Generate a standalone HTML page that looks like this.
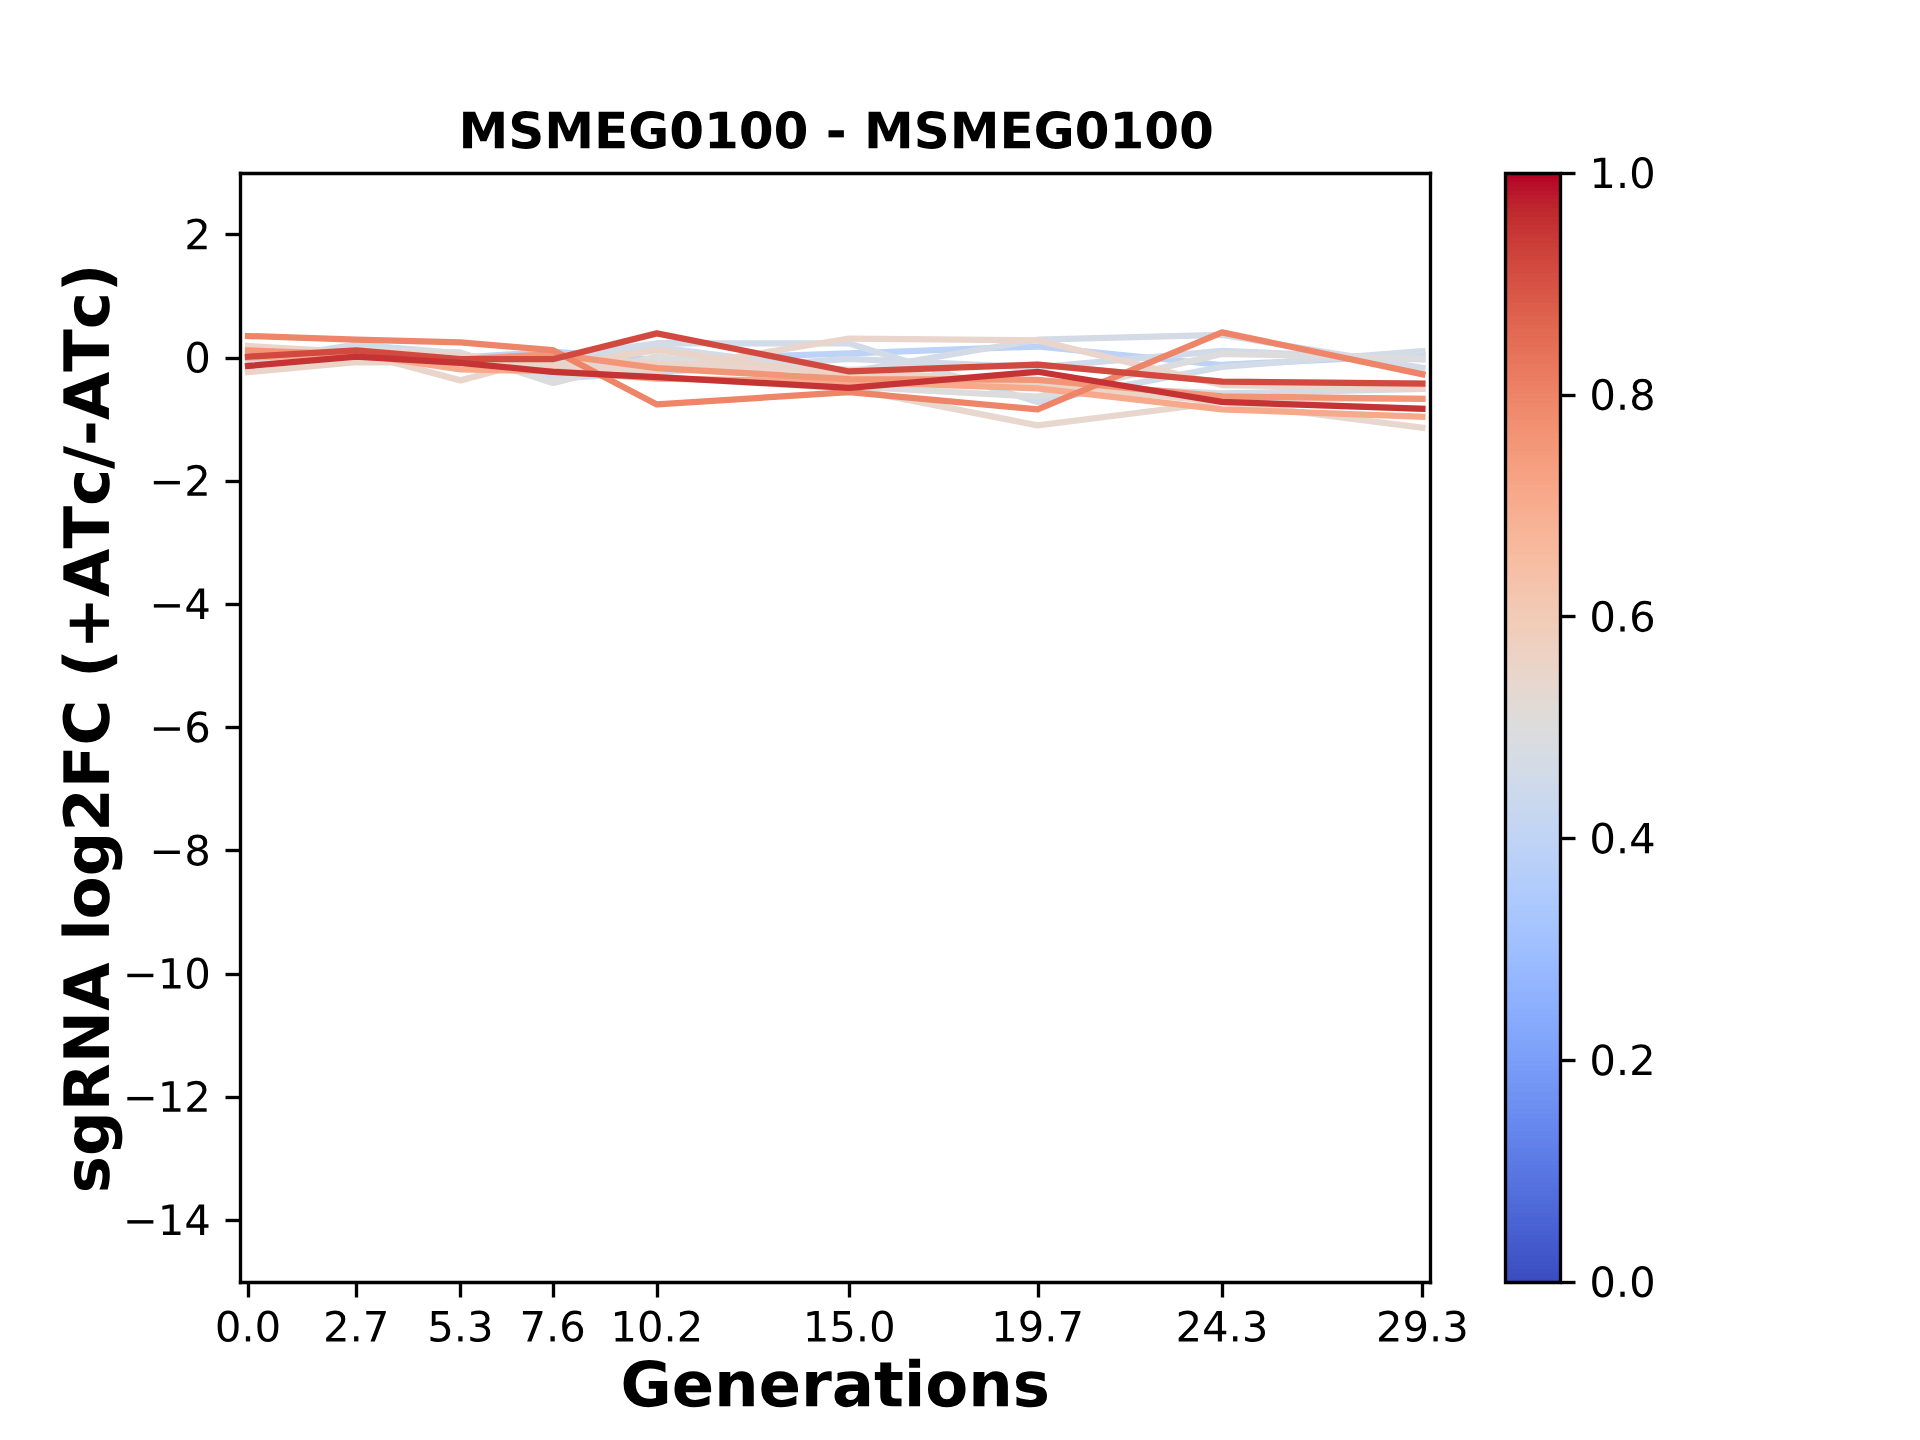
<!DOCTYPE html>
<html><head><meta charset="utf-8"><title>MSMEG0100 - MSMEG0100</title>
<style>html,body{margin:0;padding:0;background:#fff;font-family:"Liberation Sans",sans-serif}svg{display:block}</style></head>
<body>
<svg width="1920" height="1440" viewBox="0 0 460.8 345.6"><defs><style type="text/css">*{stroke-linejoin: round; stroke-linecap: butt}</style></defs><g id="figure_1"><g id="patch_1"><path d="M 0 345.6 L 460.8 345.6 L 460.8 0 L 0 0 z " style="fill: #ffffff"/></g><g id="axes_1"><g id="patch_2"><path d="M 57.6 307.584 L 343.296 307.584 L 343.296 41.472 L 57.6 41.472 z " style="fill: #ffffff"/></g><g id="matplotlib.axis_1"><g id="xtick_1"><g id="line2d_1"><defs><path id="m1504cfccaf" d="M 0 0 L 0 3.6 " style="stroke: #000000; stroke-width: 0.8"/></defs><g><use href="#m1504cfccaf" x="59.6400" y="307.8000" style="stroke: #000000; stroke-width: 0.8"/></g></g><g id="text_1"><g transform="translate(51.572316 321.942437) scale(0.1 -0.1)"><defs><path id="DejaVuSans-30" d="M 2034 4250 Q 1547 4250 1301 3770 Q 1056 3291 1056 2328 Q 1056 1369 1301 889 Q 1547 409 2034 409 Q 2525 409 2770 889 Q 3016 1369 3016 2328 Q 3016 3291 2770 3770 Q 2525 4250 2034 4250 z M 2034 4750 Q 2819 4750 3233 4129 Q 3647 3509 3647 2328 Q 3647 1150 3233 529 Q 2819 -91 2034 -91 Q 1250 -91 836 529 Q 422 1150 422 2328 Q 422 3509 836 4129 Q 1250 4750 2034 4750 z " transform="scale(0.015625)"/><path id="DejaVuSans-2e" d="M 684 794 L 1344 794 L 1344 0 L 684 0 L 684 794 z " transform="scale(0.015625)"/></defs><use href="#DejaVuSans-30"/><use href="#DejaVuSans-2e" transform="translate(63.623047 0)"/><use href="#DejaVuSans-30" transform="translate(95.410156 0)"/></g></g></g><g id="xtick_2"><g id="line2d_2"><g><use href="#m1504cfccaf" x="85.5600" y="307.8000" style="stroke: #000000; stroke-width: 0.8"/></g></g><g id="text_2"><g transform="translate(77.544680 321.942437) scale(0.1 -0.1)"><defs><path id="DejaVuSans-32" d="M 1228 531 L 3431 531 L 3431 0 L 469 0 L 469 531 Q 828 903 1448 1529 Q 2069 2156 2228 2338 Q 2531 2678 2651 2914 Q 2772 3150 2772 3378 Q 2772 3750 2511 3984 Q 2250 4219 1831 4219 Q 1534 4219 1204 4116 Q 875 4013 500 3803 L 500 4441 Q 881 4594 1212 4672 Q 1544 4750 1819 4750 Q 2544 4750 2975 4387 Q 3406 4025 3406 3419 Q 3406 3131 3298 2873 Q 3191 2616 2906 2266 Q 2828 2175 2409 1742 Q 1991 1309 1228 531 z " transform="scale(0.015625)"/><path id="DejaVuSans-37" d="M 525 4666 L 3525 4666 L 3525 4397 L 1831 0 L 1172 0 L 2766 4134 L 525 4134 L 525 4666 z " transform="scale(0.015625)"/></defs><use href="#DejaVuSans-32"/><use href="#DejaVuSans-2e" transform="translate(63.623047 0)"/><use href="#DejaVuSans-37" transform="translate(95.410156 0)"/></g></g></g><g id="xtick_3"><g id="line2d_3"><g><use href="#m1504cfccaf" x="110.5200" y="307.8000" style="stroke: #000000; stroke-width: 0.8"/></g></g><g id="text_3"><g transform="translate(102.555104 321.942437) scale(0.1 -0.1)"><defs><path id="DejaVuSans-35" d="M 691 4666 L 3169 4666 L 3169 4134 L 1269 4134 L 1269 2991 Q 1406 3038 1543 3061 Q 1681 3084 1819 3084 Q 2600 3084 3056 2656 Q 3513 2228 3513 1497 Q 3513 744 3044 326 Q 2575 -91 1722 -91 Q 1428 -91 1123 -41 Q 819 9 494 109 L 494 744 Q 775 591 1075 516 Q 1375 441 1709 441 Q 2250 441 2565 725 Q 2881 1009 2881 1497 Q 2881 1984 2565 2268 Q 2250 2553 1709 2553 Q 1456 2553 1204 2497 Q 953 2441 691 2322 L 691 4666 z " transform="scale(0.015625)"/><path id="DejaVuSans-33" d="M 2597 2516 Q 3050 2419 3304 2112 Q 3559 1806 3559 1356 Q 3559 666 3084 287 Q 2609 -91 1734 -91 Q 1441 -91 1130 -33 Q 819 25 488 141 L 488 750 Q 750 597 1062 519 Q 1375 441 1716 441 Q 2309 441 2620 675 Q 2931 909 2931 1356 Q 2931 1769 2642 2001 Q 2353 2234 1838 2234 L 1294 2234 L 1294 2753 L 1863 2753 Q 2328 2753 2575 2939 Q 2822 3125 2822 3475 Q 2822 3834 2567 4026 Q 2313 4219 1838 4219 Q 1578 4219 1281 4162 Q 984 4106 628 3988 L 628 4550 Q 988 4650 1302 4700 Q 1616 4750 1894 4750 Q 2613 4750 3031 4423 Q 3450 4097 3450 3541 Q 3450 3153 3228 2886 Q 3006 2619 2597 2516 z " transform="scale(0.015625)"/></defs><use href="#DejaVuSans-35"/><use href="#DejaVuSans-2e" transform="translate(63.623047 0)"/><use href="#DejaVuSans-33" transform="translate(95.410156 0)"/></g></g></g><g id="xtick_4"><g id="line2d_4"><g><use href="#m1504cfccaf" x="132.8400" y="307.8000" style="stroke: #000000; stroke-width: 0.8"/></g></g><g id="text_4"><g transform="translate(124.679710 321.942437) scale(0.1 -0.1)"><defs><path id="DejaVuSans-36" d="M 2113 2584 Q 1688 2584 1439 2293 Q 1191 2003 1191 1497 Q 1191 994 1439 701 Q 1688 409 2113 409 Q 2538 409 2786 701 Q 3034 994 3034 1497 Q 3034 2003 2786 2293 Q 2538 2584 2113 2584 z M 3366 4563 L 3366 3988 Q 3128 4100 2886 4159 Q 2644 4219 2406 4219 Q 1781 4219 1451 3797 Q 1122 3375 1075 2522 Q 1259 2794 1537 2939 Q 1816 3084 2150 3084 Q 2853 3084 3261 2657 Q 3669 2231 3669 1497 Q 3669 778 3244 343 Q 2819 -91 2113 -91 Q 1303 -91 875 529 Q 447 1150 447 2328 Q 447 3434 972 4092 Q 1497 4750 2381 4750 Q 2619 4750 2861 4703 Q 3103 4656 3366 4563 z " transform="scale(0.015625)"/></defs><use href="#DejaVuSans-37"/><use href="#DejaVuSans-2e" transform="translate(63.623047 0)"/><use href="#DejaVuSans-36" transform="translate(95.410156 0)"/></g></g></g><g id="xtick_5"><g id="line2d_5"><g><use href="#m1504cfccaf" x="157.8000" y="307.8000" style="stroke: #000000; stroke-width: 0.8"/></g></g><g id="text_5"><g transform="translate(146.508884 321.942437) scale(0.1 -0.1)"><defs><path id="DejaVuSans-31" d="M 794 531 L 1825 531 L 1825 4091 L 703 3866 L 703 4441 L 1819 4666 L 2450 4666 L 2450 531 L 3481 531 L 3481 0 L 794 0 L 794 531 z " transform="scale(0.015625)"/></defs><use href="#DejaVuSans-31"/><use href="#DejaVuSans-30" transform="translate(63.623047 0)"/><use href="#DejaVuSans-2e" transform="translate(127.246094 0)"/><use href="#DejaVuSans-32" transform="translate(159.033203 0)"/></g></g></g><g id="xtick_6"><g id="line2d_6"><g><use href="#m1504cfccaf" x="203.8800" y="307.8000" style="stroke: #000000; stroke-width: 0.8"/></g></g><g id="text_6"><g transform="translate(192.681975 321.942437) scale(0.1 -0.1)"><use href="#DejaVuSans-31"/><use href="#DejaVuSans-35" transform="translate(63.623047 0)"/><use href="#DejaVuSans-2e" transform="translate(127.246094 0)"/><use href="#DejaVuSans-30" transform="translate(159.033203 0)"/></g></g></g><g id="xtick_7"><g id="line2d_7"><g><use href="#m1504cfccaf" x="249.2400" y="307.8000" style="stroke: #000000; stroke-width: 0.8"/></g></g><g id="text_7"><g transform="translate(237.893127 321.942437) scale(0.1 -0.1)"><defs><path id="DejaVuSans-39" d="M 703 97 L 703 672 Q 941 559 1184 500 Q 1428 441 1663 441 Q 2288 441 2617 861 Q 2947 1281 2994 2138 Q 2813 1869 2534 1725 Q 2256 1581 1919 1581 Q 1219 1581 811 2004 Q 403 2428 403 3163 Q 403 3881 828 4315 Q 1253 4750 1959 4750 Q 2769 4750 3195 4129 Q 3622 3509 3622 2328 Q 3622 1225 3098 567 Q 2575 -91 1691 -91 Q 1453 -91 1209 -44 Q 966 3 703 97 z M 1959 2075 Q 2384 2075 2632 2365 Q 2881 2656 2881 3163 Q 2881 3666 2632 3958 Q 2384 4250 1959 4250 Q 1534 4250 1286 3958 Q 1038 3666 1038 3163 Q 1038 2656 1286 2365 Q 1534 2075 1959 2075 z " transform="scale(0.015625)"/></defs><use href="#DejaVuSans-31"/><use href="#DejaVuSans-39" transform="translate(63.623047 0)"/><use href="#DejaVuSans-2e" transform="translate(127.246094 0)"/><use href="#DejaVuSans-37" transform="translate(159.033203 0)"/></g></g></g><g id="xtick_8"><g id="line2d_8"><g><use href="#m1504cfccaf" x="293.4000" y="307.8000" style="stroke: #000000; stroke-width: 0.8"/></g></g><g id="text_8"><g transform="translate(282.142339 321.942437) scale(0.1 -0.1)"><defs><path id="DejaVuSans-34" d="M 2419 4116 L 825 1625 L 2419 1625 L 2419 4116 z M 2253 4666 L 3047 4666 L 3047 1625 L 3713 1625 L 3713 1100 L 3047 1100 L 3047 0 L 2419 0 L 2419 1100 L 313 1100 L 313 1709 L 2253 4666 z " transform="scale(0.015625)"/></defs><use href="#DejaVuSans-32"/><use href="#DejaVuSans-34" transform="translate(63.623047 0)"/><use href="#DejaVuSans-2e" transform="translate(127.246094 0)"/><use href="#DejaVuSans-33" transform="translate(159.033203 0)"/></g></g></g><g id="xtick_9"><g id="line2d_9"><g><use href="#m1504cfccaf" x="341.4000" y="307.8000" style="stroke: #000000; stroke-width: 0.8"/></g></g><g id="text_9"><g transform="translate(330.239309 321.942437) scale(0.1 -0.1)"><use href="#DejaVuSans-32"/><use href="#DejaVuSans-39" transform="translate(63.623047 0)"/><use href="#DejaVuSans-2e" transform="translate(127.246094 0)"/><use href="#DejaVuSans-33" transform="translate(159.033203 0)"/></g></g></g><g id="text_10"><g transform="translate(148.907766 337.505781) scale(0.15 -0.15)"><defs><path id="DejaVuSans-Bold-47" d="M 4781 347 Q 4331 128 3847 18 Q 3363 -91 2847 -91 Q 1681 -91 1000 561 Q 319 1213 319 2328 Q 319 3456 1012 4103 Q 1706 4750 2913 4750 Q 3378 4750 3804 4662 Q 4231 4575 4609 4403 L 4609 3438 Q 4219 3659 3833 3768 Q 3447 3878 3059 3878 Q 2341 3878 1952 3476 Q 1563 3075 1563 2328 Q 1563 1588 1938 1184 Q 2313 781 3003 781 Q 3191 781 3352 804 Q 3513 828 3641 878 L 3641 1784 L 2906 1784 L 2906 2591 L 4781 2591 L 4781 347 z " transform="scale(0.015625)"/><path id="DejaVuSans-Bold-65" d="M 4031 1759 L 4031 1441 L 1416 1441 Q 1456 1047 1700 850 Q 1944 653 2381 653 Q 2734 653 3104 758 Q 3475 863 3866 1075 L 3866 213 Q 3469 63 3072 -14 Q 2675 -91 2278 -91 Q 1328 -91 801 392 Q 275 875 275 1747 Q 275 2603 792 3093 Q 1309 3584 2216 3584 Q 3041 3584 3536 3087 Q 4031 2591 4031 1759 z M 2881 2131 Q 2881 2450 2695 2645 Q 2509 2841 2209 2841 Q 1884 2841 1681 2658 Q 1478 2475 1428 2131 L 2881 2131 z " transform="scale(0.015625)"/><path id="DejaVuSans-Bold-6e" d="M 4056 2131 L 4056 0 L 2931 0 L 2931 347 L 2931 1631 Q 2931 2084 2911 2256 Q 2891 2428 2841 2509 Q 2775 2619 2662 2680 Q 2550 2741 2406 2741 Q 2056 2741 1856 2470 Q 1656 2200 1656 1722 L 1656 0 L 538 0 L 538 3500 L 1656 3500 L 1656 2988 Q 1909 3294 2193 3439 Q 2478 3584 2822 3584 Q 3428 3584 3742 3212 Q 4056 2841 4056 2131 z " transform="scale(0.015625)"/><path id="DejaVuSans-Bold-72" d="M 3138 2547 Q 2991 2616 2845 2648 Q 2700 2681 2553 2681 Q 2122 2681 1889 2404 Q 1656 2128 1656 1613 L 1656 0 L 538 0 L 538 3500 L 1656 3500 L 1656 2925 Q 1872 3269 2151 3426 Q 2431 3584 2822 3584 Q 2878 3584 2943 3579 Q 3009 3575 3134 3559 L 3138 2547 z " transform="scale(0.015625)"/><path id="DejaVuSans-Bold-61" d="M 2106 1575 Q 1756 1575 1579 1456 Q 1403 1338 1403 1106 Q 1403 894 1545 773 Q 1688 653 1941 653 Q 2256 653 2472 879 Q 2688 1106 2688 1447 L 2688 1575 L 2106 1575 z M 3816 1997 L 3816 0 L 2688 0 L 2688 519 Q 2463 200 2181 54 Q 1900 -91 1497 -91 Q 953 -91 614 226 Q 275 544 275 1050 Q 275 1666 698 1953 Q 1122 2241 2028 2241 L 2688 2241 L 2688 2328 Q 2688 2594 2478 2717 Q 2269 2841 1825 2841 Q 1466 2841 1156 2769 Q 847 2697 581 2553 L 581 3406 Q 941 3494 1303 3539 Q 1666 3584 2028 3584 Q 2975 3584 3395 3211 Q 3816 2838 3816 1997 z " transform="scale(0.015625)"/><path id="DejaVuSans-Bold-74" d="M 1759 4494 L 1759 3500 L 2913 3500 L 2913 2700 L 1759 2700 L 1759 1216 Q 1759 972 1856 886 Q 1953 800 2241 800 L 2816 800 L 2816 0 L 1856 0 Q 1194 0 917 276 Q 641 553 641 1216 L 641 2700 L 84 2700 L 84 3500 L 641 3500 L 641 4494 L 1759 4494 z " transform="scale(0.015625)"/><path id="DejaVuSans-Bold-69" d="M 538 3500 L 1656 3500 L 1656 0 L 538 0 L 538 3500 z M 538 4863 L 1656 4863 L 1656 3950 L 538 3950 L 538 4863 z " transform="scale(0.015625)"/><path id="DejaVuSans-Bold-6f" d="M 2203 2784 Q 1831 2784 1636 2517 Q 1441 2250 1441 1747 Q 1441 1244 1636 976 Q 1831 709 2203 709 Q 2569 709 2762 976 Q 2956 1244 2956 1747 Q 2956 2250 2762 2517 Q 2569 2784 2203 2784 z M 2203 3584 Q 3106 3584 3614 3096 Q 4122 2609 4122 1747 Q 4122 884 3614 396 Q 3106 -91 2203 -91 Q 1297 -91 786 396 Q 275 884 275 1747 Q 275 2609 786 3096 Q 1297 3584 2203 3584 z " transform="scale(0.015625)"/><path id="DejaVuSans-Bold-73" d="M 3272 3391 L 3272 2541 Q 2913 2691 2578 2766 Q 2244 2841 1947 2841 Q 1628 2841 1473 2761 Q 1319 2681 1319 2516 Q 1319 2381 1436 2309 Q 1553 2238 1856 2203 L 2053 2175 Q 2913 2066 3209 1816 Q 3506 1566 3506 1031 Q 3506 472 3093 190 Q 2681 -91 1863 -91 Q 1516 -91 1145 -36 Q 775 19 384 128 L 384 978 Q 719 816 1070 734 Q 1422 653 1784 653 Q 2113 653 2278 743 Q 2444 834 2444 1013 Q 2444 1163 2330 1236 Q 2216 1309 1875 1350 L 1678 1375 Q 931 1469 631 1722 Q 331 1975 331 2491 Q 331 3047 712 3315 Q 1094 3584 1881 3584 Q 2191 3584 2531 3537 Q 2872 3491 3272 3391 z " transform="scale(0.015625)"/></defs><use href="#DejaVuSans-Bold-47"/><use href="#DejaVuSans-Bold-65" transform="translate(82.080078 0)"/><use href="#DejaVuSans-Bold-6e" transform="translate(149.902344 0)"/><use href="#DejaVuSans-Bold-65" transform="translate(221.09375 0)"/><use href="#DejaVuSans-Bold-72" transform="translate(288.916016 0)"/><use href="#DejaVuSans-Bold-61" transform="translate(338.232422 0)"/><use href="#DejaVuSans-Bold-74" transform="translate(405.712891 0)"/><use href="#DejaVuSans-Bold-69" transform="translate(453.515625 0)"/><use href="#DejaVuSans-Bold-6f" transform="translate(487.792969 0)"/><use href="#DejaVuSans-Bold-6e" transform="translate(556.494141 0)"/><use href="#DejaVuSans-Bold-73" transform="translate(627.685547 0)"/></g></g></g><g id="matplotlib.axis_2"><g id="ytick_1"><g id="line2d_10"><defs><path id="m5d545ce8f8" d="M 0 0 L -3.6 0 " style="stroke: #000000; stroke-width: 0.8"/></defs><g><use href="#m5d545ce8f8" x="57.7200" y="292.9200" style="stroke: #000000; stroke-width: 0.8"/></g></g><g id="text_11"><g transform="translate(29.495313 296.383219) scale(0.1 -0.1)"><defs><path id="DejaVuSans-2212" d="M 678 2272 L 4684 2272 L 4684 1741 L 678 1741 L 678 2272 z " transform="scale(0.015625)"/></defs><use href="#DejaVuSans-2212"/><use href="#DejaVuSans-31" transform="translate(83.789062 0)"/><use href="#DejaVuSans-34" transform="translate(147.412109 0)"/></g></g></g><g id="ytick_2"><g id="line2d_11"><g><use href="#m5d545ce8f8" x="57.7200" y="263.4000" style="stroke: #000000; stroke-width: 0.8"/></g></g><g id="text_12"><g transform="translate(29.495313 266.815219) scale(0.1 -0.1)"><use href="#DejaVuSans-2212"/><use href="#DejaVuSans-31" transform="translate(83.789062 0)"/><use href="#DejaVuSans-32" transform="translate(147.412109 0)"/></g></g></g><g id="ytick_3"><g id="line2d_12"><g><use href="#m5d545ce8f8" x="57.7200" y="233.8800" style="stroke: #000000; stroke-width: 0.8"/></g></g><g id="text_13"><g transform="translate(29.495313 237.247219) scale(0.1 -0.1)"><use href="#DejaVuSans-2212"/><use href="#DejaVuSans-31" transform="translate(83.789062 0)"/><use href="#DejaVuSans-30" transform="translate(147.412109 0)"/></g></g></g><g id="ytick_4"><g id="line2d_13"><g><use href="#m5d545ce8f8" x="57.7200" y="204.1200" style="stroke: #000000; stroke-width: 0.8"/></g></g><g id="text_14"><g transform="translate(35.857813 207.679219) scale(0.1 -0.1)"><defs><path id="DejaVuSans-38" d="M 2034 2216 Q 1584 2216 1326 1975 Q 1069 1734 1069 1313 Q 1069 891 1326 650 Q 1584 409 2034 409 Q 2484 409 2743 651 Q 3003 894 3003 1313 Q 3003 1734 2745 1975 Q 2488 2216 2034 2216 z M 1403 2484 Q 997 2584 770 2862 Q 544 3141 544 3541 Q 544 4100 942 4425 Q 1341 4750 2034 4750 Q 2731 4750 3128 4425 Q 3525 4100 3525 3541 Q 3525 3141 3298 2862 Q 3072 2584 2669 2484 Q 3125 2378 3379 2068 Q 3634 1759 3634 1313 Q 3634 634 3220 271 Q 2806 -91 2034 -91 Q 1263 -91 848 271 Q 434 634 434 1313 Q 434 1759 690 2068 Q 947 2378 1403 2484 z M 1172 3481 Q 1172 3119 1398 2916 Q 1625 2713 2034 2713 Q 2441 2713 2670 2916 Q 2900 3119 2900 3481 Q 2900 3844 2670 4047 Q 2441 4250 2034 4250 Q 1625 4250 1398 4047 Q 1172 3844 1172 3481 z " transform="scale(0.015625)"/></defs><use href="#DejaVuSans-2212"/><use href="#DejaVuSans-38" transform="translate(83.789062 0)"/></g></g></g><g id="ytick_5"><g id="line2d_14"><g><use href="#m5d545ce8f8" x="57.7200" y="174.6000" style="stroke: #000000; stroke-width: 0.8"/></g></g><g id="text_15"><g transform="translate(35.857813 178.111219) scale(0.1 -0.1)"><use href="#DejaVuSans-2212"/><use href="#DejaVuSans-36" transform="translate(83.789062 0)"/></g></g></g><g id="ytick_6"><g id="line2d_15"><g><use href="#m5d545ce8f8" x="57.7200" y="145.0800" style="stroke: #000000; stroke-width: 0.8"/></g></g><g id="text_16"><g transform="translate(35.857813 148.543219) scale(0.1 -0.1)"><use href="#DejaVuSans-2212"/><use href="#DejaVuSans-34" transform="translate(83.789062 0)"/></g></g></g><g id="ytick_7"><g id="line2d_16"><g><use href="#m5d545ce8f8" x="57.7200" y="115.5600" style="stroke: #000000; stroke-width: 0.8"/></g></g><g id="text_17"><g transform="translate(35.857813 118.975219) scale(0.1 -0.1)"><use href="#DejaVuSans-2212"/><use href="#DejaVuSans-32" transform="translate(83.789062 0)"/></g></g></g><g id="ytick_8"><g id="line2d_17"><g><use href="#m5d545ce8f8" x="57.7200" y="86.0400" style="stroke: #000000; stroke-width: 0.8"/></g></g><g id="text_18"><g transform="translate(44.237500 89.407219) scale(0.1 -0.1)"><use href="#DejaVuSans-30"/></g></g></g><g id="ytick_9"><g id="line2d_18"><g><use href="#m5d545ce8f8" x="57.7200" y="56.2800" style="stroke: #000000; stroke-width: 0.8"/></g></g><g id="text_19"><g transform="translate(44.237500 59.839219) scale(0.1 -0.1)"><use href="#DejaVuSans-32"/></g></g></g><g id="text_20"><g transform="translate(26.138594 286.390219) rotate(-90) scale(0.15 -0.15)"><defs><path id="DejaVuSans-Bold-67" d="M 2919 594 Q 2688 288 2409 144 Q 2131 0 1766 0 Q 1125 0 706 504 Q 288 1009 288 1791 Q 288 2575 706 3076 Q 1125 3578 1766 3578 Q 2131 3578 2409 3434 Q 2688 3291 2919 2981 L 2919 3500 L 4044 3500 L 4044 353 Q 4044 -491 3511 -936 Q 2978 -1381 1966 -1381 Q 1638 -1381 1331 -1331 Q 1025 -1281 716 -1178 L 716 -306 Q 1009 -475 1290 -558 Q 1572 -641 1856 -641 Q 2406 -641 2662 -400 Q 2919 -159 2919 353 L 2919 594 z M 2181 2772 Q 1834 2772 1640 2515 Q 1447 2259 1447 1791 Q 1447 1309 1634 1061 Q 1822 813 2181 813 Q 2531 813 2725 1069 Q 2919 1325 2919 1791 Q 2919 2259 2725 2515 Q 2531 2772 2181 2772 z " transform="scale(0.015625)"/><path id="DejaVuSans-Bold-52" d="M 2297 2597 Q 2675 2597 2839 2737 Q 3003 2878 3003 3200 Q 3003 3519 2839 3656 Q 2675 3794 2297 3794 L 1791 3794 L 1791 2597 L 2297 2597 z M 1791 1766 L 1791 0 L 588 0 L 588 4666 L 2425 4666 Q 3347 4666 3776 4356 Q 4206 4047 4206 3378 Q 4206 2916 3982 2619 Q 3759 2322 3309 2181 Q 3556 2125 3751 1926 Q 3947 1728 4147 1325 L 4800 0 L 3519 0 L 2950 1159 Q 2778 1509 2601 1637 Q 2425 1766 2131 1766 L 1791 1766 z " transform="scale(0.015625)"/><path id="DejaVuSans-Bold-4e" d="M 588 4666 L 1931 4666 L 3628 1466 L 3628 4666 L 4769 4666 L 4769 0 L 3425 0 L 1728 3200 L 1728 0 L 588 0 L 588 4666 z " transform="scale(0.015625)"/><path id="DejaVuSans-Bold-41" d="M 3419 850 L 1538 850 L 1241 0 L 31 0 L 1759 4666 L 3194 4666 L 4922 0 L 3713 0 L 3419 850 z M 1838 1716 L 3116 1716 L 2478 3572 L 1838 1716 z " transform="scale(0.015625)"/><path id="DejaVuSans-Bold-20" transform="scale(0.015625)"/><path id="DejaVuSans-Bold-6c" d="M 538 4863 L 1656 4863 L 1656 0 L 538 0 L 538 4863 z " transform="scale(0.015625)"/><path id="DejaVuSans-Bold-32" d="M 1844 884 L 3897 884 L 3897 0 L 506 0 L 506 884 L 2209 2388 Q 2438 2594 2547 2791 Q 2656 2988 2656 3200 Q 2656 3528 2436 3728 Q 2216 3928 1850 3928 Q 1569 3928 1234 3808 Q 900 3688 519 3450 L 519 4475 Q 925 4609 1322 4679 Q 1719 4750 2100 4750 Q 2938 4750 3402 4381 Q 3866 4013 3866 3353 Q 3866 2972 3669 2642 Q 3472 2313 2841 1759 L 1844 884 z " transform="scale(0.015625)"/><path id="DejaVuSans-Bold-46" d="M 588 4666 L 3834 4666 L 3834 3756 L 1791 3756 L 1791 2888 L 3713 2888 L 3713 1978 L 1791 1978 L 1791 0 L 588 0 L 588 4666 z " transform="scale(0.015625)"/><path id="DejaVuSans-Bold-43" d="M 4288 256 Q 3956 84 3597 -3 Q 3238 -91 2847 -91 Q 1681 -91 1000 561 Q 319 1213 319 2328 Q 319 3447 1000 4098 Q 1681 4750 2847 4750 Q 3238 4750 3597 4662 Q 3956 4575 4288 4403 L 4288 3438 Q 3953 3666 3628 3772 Q 3303 3878 2944 3878 Q 2300 3878 1931 3465 Q 1563 3053 1563 2328 Q 1563 1606 1931 1193 Q 2300 781 2944 781 Q 3303 781 3628 887 Q 3953 994 4288 1222 L 4288 256 z " transform="scale(0.015625)"/><path id="DejaVuSans-Bold-28" d="M 2413 -844 L 1484 -844 Q 1006 -72 778 623 Q 550 1319 550 2003 Q 550 2688 779 3389 Q 1009 4091 1484 4856 L 2413 4856 Q 2013 4116 1813 3408 Q 1613 2700 1613 2009 Q 1613 1319 1811 609 Q 2009 -100 2413 -844 z " transform="scale(0.015625)"/><path id="DejaVuSans-Bold-2b" d="M 3053 4013 L 3053 2375 L 4684 2375 L 4684 1638 L 3053 1638 L 3053 0 L 2309 0 L 2309 1638 L 678 1638 L 678 2375 L 2309 2375 L 2309 4013 L 3053 4013 z " transform="scale(0.015625)"/><path id="DejaVuSans-Bold-54" d="M 31 4666 L 4331 4666 L 4331 3756 L 2784 3756 L 2784 0 L 1581 0 L 1581 3756 L 31 3756 L 31 4666 z " transform="scale(0.015625)"/><path id="DejaVuSans-Bold-63" d="M 3366 3391 L 3366 2478 Q 3138 2634 2908 2709 Q 2678 2784 2431 2784 Q 1963 2784 1702 2511 Q 1441 2238 1441 1747 Q 1441 1256 1702 982 Q 1963 709 2431 709 Q 2694 709 2930 787 Q 3166 866 3366 1019 L 3366 103 Q 3103 6 2833 -42 Q 2563 -91 2291 -91 Q 1344 -91 809 395 Q 275 881 275 1747 Q 275 2613 809 3098 Q 1344 3584 2291 3584 Q 2566 3584 2833 3536 Q 3100 3488 3366 3391 z " transform="scale(0.015625)"/><path id="DejaVuSans-Bold-2f" d="M 1644 4666 L 2338 4666 L 691 -594 L 0 -594 L 1644 4666 z " transform="scale(0.015625)"/><path id="DejaVuSans-Bold-2d" d="M 347 2297 L 2309 2297 L 2309 1388 L 347 1388 L 347 2297 z " transform="scale(0.015625)"/><path id="DejaVuSans-Bold-29" d="M 513 -844 Q 913 -100 1113 609 Q 1313 1319 1313 2009 Q 1313 2700 1113 3408 Q 913 4116 513 4856 L 1441 4856 Q 1916 4091 2145 3389 Q 2375 2688 2375 2003 Q 2375 1319 2147 623 Q 1919 -72 1441 -844 L 513 -844 z " transform="scale(0.015625)"/></defs><use href="#DejaVuSans-Bold-73"/><use href="#DejaVuSans-Bold-67" transform="translate(59.521484 0)"/><use href="#DejaVuSans-Bold-52" transform="translate(131.103516 0)"/><use href="#DejaVuSans-Bold-4e" transform="translate(208.105469 0)"/><use href="#DejaVuSans-Bold-41" transform="translate(291.796875 0)"/><use href="#DejaVuSans-Bold-20" transform="translate(369.189453 0)"/><use href="#DejaVuSans-Bold-6c" transform="translate(404.003906 0)"/><use href="#DejaVuSans-Bold-6f" transform="translate(438.28125 0)"/><use href="#DejaVuSans-Bold-67" transform="translate(506.982422 0)"/><use href="#DejaVuSans-Bold-32" transform="translate(578.564453 0)"/><use href="#DejaVuSans-Bold-46" transform="translate(648.144531 0)"/><use href="#DejaVuSans-Bold-43" transform="translate(716.455078 0)"/><use href="#DejaVuSans-Bold-20" transform="translate(789.84375 0)"/><use href="#DejaVuSans-Bold-28" transform="translate(824.658203 0)"/><use href="#DejaVuSans-Bold-2b" transform="translate(870.361328 0)"/><use href="#DejaVuSans-Bold-41" transform="translate(954.150391 0)"/><use href="#DejaVuSans-Bold-54" transform="translate(1031.542969 0)"/><use href="#DejaVuSans-Bold-63" transform="translate(1099.755859 0)"/><use href="#DejaVuSans-Bold-2f" transform="translate(1159.033203 0)"/><use href="#DejaVuSans-Bold-2d" transform="translate(1195.556641 0)"/><use href="#DejaVuSans-Bold-41" transform="translate(1237.060547 0)"/><use href="#DejaVuSans-Bold-54" transform="translate(1314.453125 0)"/><use href="#DejaVuSans-Bold-63" transform="translate(1382.666016 0)"/><use href="#DejaVuSans-Bold-29" transform="translate(1441.943359 0)"/></g></g></g><g id="line2d_19"><path d="M 59.523879 85.60224 L 85.496242 85.52832 L 110.506667 85.824 L 132.631273 84.389952 L 157.641697 86.371008 L 203.814788 84.78912 L 249.025939 83.16288 L 293.275152 87.59808 L 341.372121 85.15872 " clip-path="url(#p9944d8ce5a)" style="fill: none; stroke: #bcd2f7; stroke-width: 1.5; stroke-linecap: square"/></g><g id="line2d_20"><path d="M 59.523879 86.71104 L 85.496242 82.71936 L 110.506667 84.78912 L 132.631273 90.85056 L 157.641697 89.37216 L 203.814788 86.11968 L 249.025939 88.18944 L 293.275152 84.19776 L 341.372121 86.26752 " clip-path="url(#p9944d8ce5a)" style="fill: none; stroke: #d1dae9; stroke-width: 1.5; stroke-linecap: square"/></g><g id="line2d_21"><path d="M 59.523879 85.824 L 85.496242 84.3456 L 110.506667 85.824 L 132.631273 85.97184 L 157.641697 82.379328 L 203.814788 82.42368 L 249.025939 96.46848 L 293.275152 88.0416 L 341.372121 84.27168 " clip-path="url(#p9944d8ce5a)" style="fill: none; stroke: #d2dbe8; stroke-width: 1.5; stroke-linecap: square"/></g><g id="line2d_22"><path d="M 59.523879 85.824 L 85.496242 85.824 L 110.506667 86.5632 L 132.631273 85.52832 L 157.641697 83.31072 L 203.814788 89.22432 L 249.025939 81.53664 L 293.275152 80.398272 L 341.372121 88.278144 " clip-path="url(#p9944d8ce5a)" style="fill: none; stroke: #d4dbe6; stroke-width: 1.5; stroke-linecap: square"/></g><g id="line2d_23"><path d="M 59.523879 85.824 L 85.496242 85.0848 L 110.506667 86.26752 L 132.631273 86.5632 L 157.641697 87.45024 L 203.814788 89.1504 L 249.025939 92.4768 L 293.275152 94.39872 L 341.372121 93.36384 " clip-path="url(#p9944d8ce5a)" style="fill: none; stroke: #d5dbe5; stroke-width: 1.5; stroke-linecap: square"/></g><g id="line2d_24"><path d="M 59.523879 85.824 L 85.496242 83.90208 L 110.506667 84.64128 L 132.631273 91.88544 L 157.641697 85.824 L 203.814788 88.7808 L 249.025939 87.52416 L 293.275152 91.58976 L 341.372121 92.03328 " clip-path="url(#p9944d8ce5a)" style="fill: none; stroke: #d6dce4; stroke-width: 1.5; stroke-linecap: square"/></g><g id="line2d_25"><path d="M 59.523879 85.824 L 85.496242 83.90208 L 110.506667 84.64128 L 132.631273 91.88544 L 157.641697 85.498752 L 203.814788 92.742912 L 249.025939 95.197056 L 293.275152 84.93696 L 341.372121 85.97184 " clip-path="url(#p9944d8ce5a)" style="fill: none; stroke: #dddcdc; stroke-width: 1.5; stroke-linecap: square"/></g><g id="line2d_26"><path d="M 59.523879 87.834624 L 85.496242 85.60224 L 110.506667 87.08064 L 132.631273 89.22432 L 157.641697 90.510528 L 203.814788 93.216 L 249.025939 102.0864 L 293.275152 96.5424 L 341.372121 102.67776 " clip-path="url(#p9944d8ce5a)" style="fill: none; stroke: #e7d7ce; stroke-width: 1.5; stroke-linecap: square"/></g><g id="line2d_27"><path d="M 59.523879 87.834624 L 85.496242 84.3456 L 110.506667 85.23264 L 132.631273 87.89376 L 157.641697 88.85472 L 203.814788 81.24096 L 249.025939 81.68448 L 293.275152 92.40288 L 341.372121 93.216 " clip-path="url(#p9944d8ce5a)" style="fill: none; stroke: #e9d5cb; stroke-width: 1.5; stroke-linecap: square"/></g><g id="line2d_28"><path d="M 59.523879 83.01504 L 85.496242 84.582144 L 110.506667 91.29408 L 132.631273 85.38048 L 157.641697 87.184128 L 203.814788 89.07648 L 249.025939 91.7376 L 293.275152 95.58144 L 341.372121 95.72928 " clip-path="url(#p9944d8ce5a)" style="fill: none; stroke: #e9d5cb; stroke-width: 1.5; stroke-linecap: square"/></g><g id="line2d_29"><path d="M 59.523879 89.29824 L 85.496242 86.9328 L 110.506667 87.08064 L 132.631273 87.864192 L 157.641697 84.04992 L 203.814788 90.2592 L 249.025939 92.18112 L 293.275152 96.46848 L 341.372121 98.09472 " clip-path="url(#p9944d8ce5a)" style="fill: none; stroke: #ead4c8; stroke-width: 1.5; stroke-linecap: square"/></g><g id="line2d_30"><path d="M 59.523879 85.824 L 85.496242 84.93696 L 110.506667 88.63296 L 132.631273 89.07648 L 157.641697 90.85056 L 203.814788 91.66368 L 249.025939 93.216 L 293.275152 98.24256 L 341.372121 100.01664 " clip-path="url(#p9944d8ce5a)" style="fill: none; stroke: #f7a98b; stroke-width: 1.5; stroke-linecap: square"/></g><g id="line2d_31"><path d="M 59.523879 84.094272 L 85.496242 85.0848 L 110.506667 86.26752 L 132.631273 84.981312 L 157.641697 88.33728 L 203.814788 90.9984 L 249.025939 91.14624 L 293.275152 95.13792 L 341.372121 95.72928 " clip-path="url(#p9944d8ce5a)" style="fill: none; stroke: #f39577; stroke-width: 1.5; stroke-linecap: square"/></g><g id="line2d_32"><path d="M 59.523879 80.6496 L 85.496242 81.53664 L 110.506667 82.172352 L 132.631273 84.020352 L 157.641697 97.05984 L 203.814788 94.10304 L 249.025939 98.24256 L 293.275152 79.76256 L 341.372121 89.81568 " clip-path="url(#p9944d8ce5a)" style="fill: none; stroke: #ee8468; stroke-width: 1.5; stroke-linecap: square"/></g><g id="line2d_33"><path d="M 59.523879 85.60224 L 85.496242 84.094272 L 110.506667 86.208384 L 132.631273 86.208384 L 157.641697 80.013888 L 203.814788 89.1504 L 249.025939 87.52416 L 293.275152 91.58976 L 341.372121 92.03328 " clip-path="url(#p9944d8ce5a)" style="fill: none; stroke: #d1493f; stroke-width: 1.5; stroke-linecap: square"/></g><g id="line2d_34"><path d="M 59.523879 87.834624 L 85.496242 85.60224 L 110.506667 87.08064 L 132.631273 89.22432 L 157.641697 90.510528 L 203.814788 93.06816 L 249.025939 89.22432 L 293.275152 96.46848 L 341.372121 98.09472 " clip-path="url(#p9944d8ce5a)" style="fill: none; stroke: #c53334; stroke-width: 1.5; stroke-linecap: square"/></g><g id="patch_3"><path d="M 57.72 307.8 L 57.72 41.64 " style="fill: none; stroke: #000000; stroke-width: 0.8; stroke-linejoin: miter; stroke-linecap: square"/></g><g id="patch_4"><path d="M 343.32 307.8 L 343.32 41.64 " style="fill: none; stroke: #000000; stroke-width: 0.8; stroke-linejoin: miter; stroke-linecap: square"/></g><g id="patch_5"><path d="M 57.72 307.8 L 343.32 307.8 " style="fill: none; stroke: #000000; stroke-width: 0.8; stroke-linejoin: miter; stroke-linecap: square"/></g><g id="patch_6"><path d="M 57.72 41.64 L 343.32 41.64 " style="fill: none; stroke: #000000; stroke-width: 0.8; stroke-linejoin: miter; stroke-linecap: square"/></g><g id="text_21"><g transform="translate(110.050500 35.568000) scale(0.12 -0.12)"><defs><path id="DejaVuSans-Bold-4d" d="M 588 4666 L 2119 4666 L 3181 2169 L 4250 4666 L 5778 4666 L 5778 0 L 4641 0 L 4641 3413 L 3566 897 L 2803 897 L 1728 3413 L 1728 0 L 588 0 L 588 4666 z " transform="scale(0.015625)"/><path id="DejaVuSans-Bold-53" d="M 3834 4519 L 3834 3531 Q 3450 3703 3084 3790 Q 2719 3878 2394 3878 Q 1963 3878 1756 3759 Q 1550 3641 1550 3391 Q 1550 3203 1689 3098 Q 1828 2994 2194 2919 L 2706 2816 Q 3484 2659 3812 2340 Q 4141 2022 4141 1434 Q 4141 663 3683 286 Q 3225 -91 2284 -91 Q 1841 -91 1394 -6 Q 947 78 500 244 L 500 1259 Q 947 1022 1364 901 Q 1781 781 2169 781 Q 2563 781 2772 912 Q 2981 1044 2981 1288 Q 2981 1506 2839 1625 Q 2697 1744 2272 1838 L 1806 1941 Q 1106 2091 782 2419 Q 459 2747 459 3303 Q 459 4000 909 4375 Q 1359 4750 2203 4750 Q 2588 4750 2994 4692 Q 3400 4634 3834 4519 z " transform="scale(0.015625)"/><path id="DejaVuSans-Bold-45" d="M 588 4666 L 3834 4666 L 3834 3756 L 1791 3756 L 1791 2888 L 3713 2888 L 3713 1978 L 1791 1978 L 1791 909 L 3903 909 L 3903 0 L 588 0 L 588 4666 z " transform="scale(0.015625)"/><path id="DejaVuSans-Bold-30" d="M 2944 2338 Q 2944 3213 2780 3570 Q 2616 3928 2228 3928 Q 1841 3928 1675 3570 Q 1509 3213 1509 2338 Q 1509 1453 1675 1090 Q 1841 728 2228 728 Q 2613 728 2778 1090 Q 2944 1453 2944 2338 z M 4147 2328 Q 4147 1169 3647 539 Q 3147 -91 2228 -91 Q 1306 -91 806 539 Q 306 1169 306 2328 Q 306 3491 806 4120 Q 1306 4750 2228 4750 Q 3147 4750 3647 4120 Q 4147 3491 4147 2328 z " transform="scale(0.015625)"/><path id="DejaVuSans-Bold-31" d="M 750 831 L 1813 831 L 1813 3847 L 722 3622 L 722 4441 L 1806 4666 L 2950 4666 L 2950 831 L 4013 831 L 4013 0 L 750 0 L 750 831 z " transform="scale(0.015625)"/></defs><use href="#DejaVuSans-Bold-4d"/><use href="#DejaVuSans-Bold-53" transform="translate(99.511719 0)"/><use href="#DejaVuSans-Bold-4d" transform="translate(171.533203 0)"/><use href="#DejaVuSans-Bold-45" transform="translate(271.044922 0)"/><use href="#DejaVuSans-Bold-47" transform="translate(339.355469 0)"/><use href="#DejaVuSans-Bold-30" transform="translate(421.435547 0)"/><use href="#DejaVuSans-Bold-31" transform="translate(491.015625 0)"/><use href="#DejaVuSans-Bold-30" transform="translate(560.595703 0)"/><use href="#DejaVuSans-Bold-30" transform="translate(630.175781 0)"/><use href="#DejaVuSans-Bold-20" transform="translate(699.755859 0)"/><use href="#DejaVuSans-Bold-2d" transform="translate(734.570312 0)"/><use href="#DejaVuSans-Bold-20" transform="translate(776.074219 0)"/><use href="#DejaVuSans-Bold-4d" transform="translate(810.888672 0)"/><use href="#DejaVuSans-Bold-53" transform="translate(910.400391 0)"/><use href="#DejaVuSans-Bold-4d" transform="translate(982.421875 0)"/><use href="#DejaVuSans-Bold-45" transform="translate(1081.933594 0)"/><use href="#DejaVuSans-Bold-47" transform="translate(1150.244141 0)"/><use href="#DejaVuSans-Bold-30" transform="translate(1232.324219 0)"/><use href="#DejaVuSans-Bold-31" transform="translate(1301.904297 0)"/><use href="#DejaVuSans-Bold-30" transform="translate(1371.484375 0)"/><use href="#DejaVuSans-Bold-30" transform="translate(1441.064453 0)"/></g></g></g><g id="axes_2"><g id="patch_7"><path d="M 361.152 307.584 L 374.4576 307.584 L 374.4576 41.472 L 361.152 41.472 z " style="fill: #ffffff"/></g><g id="cbar_solids" shape-rendering="crispEdges"><rect x="361.1520" y="306.5445" width="13.3056" height="1.0395" fill="#3b4cc0"/><rect x="361.1520" y="305.5050" width="13.3056" height="1.1895" fill="#3c4ec2"/><rect x="361.1520" y="304.4655" width="13.3056" height="1.1895" fill="#3d50c3"/><rect x="361.1520" y="303.4260" width="13.3056" height="1.1895" fill="#3e51c5"/><rect x="361.1520" y="302.3865" width="13.3056" height="1.1895" fill="#3f53c6"/><rect x="361.1520" y="301.3470" width="13.3056" height="1.1895" fill="#4055c8"/><rect x="361.1520" y="300.3075" width="13.3056" height="1.1895" fill="#4257c9"/><rect x="361.1520" y="299.2680" width="13.3056" height="1.1895" fill="#4358cb"/><rect x="361.1520" y="298.2285" width="13.3056" height="1.1895" fill="#445acc"/><rect x="361.1520" y="297.1890" width="13.3056" height="1.1895" fill="#455cce"/><rect x="361.1520" y="296.1495" width="13.3056" height="1.1895" fill="#465ecf"/><rect x="361.1520" y="295.1100" width="13.3056" height="1.1895" fill="#485fd1"/><rect x="361.1520" y="294.0705" width="13.3056" height="1.1895" fill="#4961d2"/><rect x="361.1520" y="293.0310" width="13.3056" height="1.1895" fill="#4a63d3"/><rect x="361.1520" y="291.9915" width="13.3056" height="1.1895" fill="#4b64d5"/><rect x="361.1520" y="290.9520" width="13.3056" height="1.1895" fill="#4c66d6"/><rect x="361.1520" y="289.9125" width="13.3056" height="1.1895" fill="#4e68d8"/><rect x="361.1520" y="288.8730" width="13.3056" height="1.1895" fill="#4f69d9"/><rect x="361.1520" y="287.8335" width="13.3056" height="1.1895" fill="#506bda"/><rect x="361.1520" y="286.7940" width="13.3056" height="1.1895" fill="#516ddb"/><rect x="361.1520" y="285.7545" width="13.3056" height="1.1895" fill="#536edd"/><rect x="361.1520" y="284.7150" width="13.3056" height="1.1895" fill="#5470de"/><rect x="361.1520" y="283.6755" width="13.3056" height="1.1895" fill="#5572df"/><rect x="361.1520" y="282.6360" width="13.3056" height="1.1895" fill="#5673e0"/><rect x="361.1520" y="281.5965" width="13.3056" height="1.1895" fill="#5875e1"/><rect x="361.1520" y="280.5570" width="13.3056" height="1.1895" fill="#5977e3"/><rect x="361.1520" y="279.5175" width="13.3056" height="1.1895" fill="#5a78e4"/><rect x="361.1520" y="278.4780" width="13.3056" height="1.1895" fill="#5b7ae5"/><rect x="361.1520" y="277.4385" width="13.3056" height="1.1895" fill="#5d7ce6"/><rect x="361.1520" y="276.3990" width="13.3056" height="1.1895" fill="#5e7de7"/><rect x="361.1520" y="275.3595" width="13.3056" height="1.1895" fill="#5f7fe8"/><rect x="361.1520" y="274.3200" width="13.3056" height="1.1895" fill="#6180e9"/><rect x="361.1520" y="273.2805" width="13.3056" height="1.1895" fill="#6282ea"/><rect x="361.1520" y="272.2410" width="13.3056" height="1.1895" fill="#6384eb"/><rect x="361.1520" y="271.2015" width="13.3056" height="1.1895" fill="#6485ec"/><rect x="361.1520" y="270.1620" width="13.3056" height="1.1895" fill="#6687ed"/><rect x="361.1520" y="269.1225" width="13.3056" height="1.1895" fill="#6788ee"/><rect x="361.1520" y="268.0830" width="13.3056" height="1.1895" fill="#688aef"/><rect x="361.1520" y="267.0435" width="13.3056" height="1.1895" fill="#6a8bef"/><rect x="361.1520" y="266.0040" width="13.3056" height="1.1895" fill="#6b8df0"/><rect x="361.1520" y="264.9645" width="13.3056" height="1.1895" fill="#6c8ff1"/><rect x="361.1520" y="263.9250" width="13.3056" height="1.1895" fill="#6e90f2"/><rect x="361.1520" y="262.8855" width="13.3056" height="1.1895" fill="#6f92f3"/><rect x="361.1520" y="261.8460" width="13.3056" height="1.1895" fill="#7093f3"/><rect x="361.1520" y="260.8065" width="13.3056" height="1.1895" fill="#7295f4"/><rect x="361.1520" y="259.7670" width="13.3056" height="1.1895" fill="#7396f5"/><rect x="361.1520" y="258.7275" width="13.3056" height="1.1895" fill="#7597f6"/><rect x="361.1520" y="257.6880" width="13.3056" height="1.1895" fill="#7699f6"/><rect x="361.1520" y="256.6485" width="13.3056" height="1.1895" fill="#779af7"/><rect x="361.1520" y="255.6090" width="13.3056" height="1.1895" fill="#799cf8"/><rect x="361.1520" y="254.5695" width="13.3056" height="1.1895" fill="#7a9df8"/><rect x="361.1520" y="253.5300" width="13.3056" height="1.1895" fill="#7b9ff9"/><rect x="361.1520" y="252.4905" width="13.3056" height="1.1895" fill="#7da0f9"/><rect x="361.1520" y="251.4510" width="13.3056" height="1.1895" fill="#7ea1fa"/><rect x="361.1520" y="250.4115" width="13.3056" height="1.1895" fill="#80a3fa"/><rect x="361.1520" y="249.3720" width="13.3056" height="1.1895" fill="#81a4fb"/><rect x="361.1520" y="248.3325" width="13.3056" height="1.1895" fill="#82a6fb"/><rect x="361.1520" y="247.2930" width="13.3056" height="1.1895" fill="#84a7fc"/><rect x="361.1520" y="246.2535" width="13.3056" height="1.1895" fill="#85a8fc"/><rect x="361.1520" y="245.2140" width="13.3056" height="1.1895" fill="#86a9fc"/><rect x="361.1520" y="244.1745" width="13.3056" height="1.1895" fill="#88abfd"/><rect x="361.1520" y="243.1350" width="13.3056" height="1.1895" fill="#89acfd"/><rect x="361.1520" y="242.0955" width="13.3056" height="1.1895" fill="#8badfd"/><rect x="361.1520" y="241.0560" width="13.3056" height="1.1895" fill="#8caffe"/><rect x="361.1520" y="240.0165" width="13.3056" height="1.1895" fill="#8db0fe"/><rect x="361.1520" y="238.9770" width="13.3056" height="1.1895" fill="#8fb1fe"/><rect x="361.1520" y="237.9375" width="13.3056" height="1.1895" fill="#90b2fe"/><rect x="361.1520" y="236.8980" width="13.3056" height="1.1895" fill="#92b4fe"/><rect x="361.1520" y="235.8585" width="13.3056" height="1.1895" fill="#93b5fe"/><rect x="361.1520" y="234.8190" width="13.3056" height="1.1895" fill="#94b6ff"/><rect x="361.1520" y="233.7795" width="13.3056" height="1.1895" fill="#96b7ff"/><rect x="361.1520" y="232.7400" width="13.3056" height="1.1895" fill="#97b8ff"/><rect x="361.1520" y="231.7005" width="13.3056" height="1.1895" fill="#98b9ff"/><rect x="361.1520" y="230.6610" width="13.3056" height="1.1895" fill="#9abbff"/><rect x="361.1520" y="229.6215" width="13.3056" height="1.1895" fill="#9bbcff"/><rect x="361.1520" y="228.5820" width="13.3056" height="1.1895" fill="#9dbdff"/><rect x="361.1520" y="227.5425" width="13.3056" height="1.1895" fill="#9ebeff"/><rect x="361.1520" y="226.5030" width="13.3056" height="1.1895" fill="#9fbfff"/><rect x="361.1520" y="225.4635" width="13.3056" height="1.1895" fill="#a1c0ff"/><rect x="361.1520" y="224.4240" width="13.3056" height="1.1895" fill="#a2c1ff"/><rect x="361.1520" y="223.3845" width="13.3056" height="1.1895" fill="#a3c2fe"/><rect x="361.1520" y="222.3450" width="13.3056" height="1.1895" fill="#a5c3fe"/><rect x="361.1520" y="221.3055" width="13.3056" height="1.1895" fill="#a6c4fe"/><rect x="361.1520" y="220.2660" width="13.3056" height="1.1895" fill="#a7c5fe"/><rect x="361.1520" y="219.2265" width="13.3056" height="1.1895" fill="#a9c6fd"/><rect x="361.1520" y="218.1870" width="13.3056" height="1.1895" fill="#aac7fd"/><rect x="361.1520" y="217.1475" width="13.3056" height="1.1895" fill="#abc8fd"/><rect x="361.1520" y="216.1080" width="13.3056" height="1.1895" fill="#adc9fd"/><rect x="361.1520" y="215.0685" width="13.3056" height="1.1895" fill="#aec9fc"/><rect x="361.1520" y="214.0290" width="13.3056" height="1.1895" fill="#afcafc"/><rect x="361.1520" y="212.9895" width="13.3056" height="1.1895" fill="#b1cbfc"/><rect x="361.1520" y="211.9500" width="13.3056" height="1.1895" fill="#b2ccfb"/><rect x="361.1520" y="210.9105" width="13.3056" height="1.1895" fill="#b3cdfb"/><rect x="361.1520" y="209.8710" width="13.3056" height="1.1895" fill="#b5cdfa"/><rect x="361.1520" y="208.8315" width="13.3056" height="1.1895" fill="#b6cefa"/><rect x="361.1520" y="207.7920" width="13.3056" height="1.1895" fill="#b7cff9"/><rect x="361.1520" y="206.7525" width="13.3056" height="1.1895" fill="#b9d0f9"/><rect x="361.1520" y="205.7130" width="13.3056" height="1.1895" fill="#bad0f8"/><rect x="361.1520" y="204.6735" width="13.3056" height="1.1895" fill="#bbd1f8"/><rect x="361.1520" y="203.6340" width="13.3056" height="1.1895" fill="#bcd2f7"/><rect x="361.1520" y="202.5945" width="13.3056" height="1.1895" fill="#bed2f6"/><rect x="361.1520" y="201.5550" width="13.3056" height="1.1895" fill="#bfd3f6"/><rect x="361.1520" y="200.5155" width="13.3056" height="1.1895" fill="#c0d4f5"/><rect x="361.1520" y="199.4760" width="13.3056" height="1.1895" fill="#c1d4f4"/><rect x="361.1520" y="198.4365" width="13.3056" height="1.1895" fill="#c3d5f4"/><rect x="361.1520" y="197.3970" width="13.3056" height="1.1895" fill="#c4d5f3"/><rect x="361.1520" y="196.3575" width="13.3056" height="1.1895" fill="#c5d6f2"/><rect x="361.1520" y="195.3180" width="13.3056" height="1.1895" fill="#c6d6f1"/><rect x="361.1520" y="194.2785" width="13.3056" height="1.1895" fill="#c7d7f0"/><rect x="361.1520" y="193.2390" width="13.3056" height="1.1895" fill="#c9d7f0"/><rect x="361.1520" y="192.1995" width="13.3056" height="1.1895" fill="#cad8ef"/><rect x="361.1520" y="191.1600" width="13.3056" height="1.1895" fill="#cbd8ee"/><rect x="361.1520" y="190.1205" width="13.3056" height="1.1895" fill="#ccd9ed"/><rect x="361.1520" y="189.0810" width="13.3056" height="1.1895" fill="#cdd9ec"/><rect x="361.1520" y="188.0415" width="13.3056" height="1.1895" fill="#cedaeb"/><rect x="361.1520" y="187.0020" width="13.3056" height="1.1895" fill="#cfdaea"/><rect x="361.1520" y="185.9625" width="13.3056" height="1.1895" fill="#d1dae9"/><rect x="361.1520" y="184.9230" width="13.3056" height="1.1895" fill="#d2dbe8"/><rect x="361.1520" y="183.8835" width="13.3056" height="1.1895" fill="#d3dbe7"/><rect x="361.1520" y="182.8440" width="13.3056" height="1.1895" fill="#d4dbe6"/><rect x="361.1520" y="181.8045" width="13.3056" height="1.1895" fill="#d5dbe5"/><rect x="361.1520" y="180.7650" width="13.3056" height="1.1895" fill="#d6dce4"/><rect x="361.1520" y="179.7255" width="13.3056" height="1.1895" fill="#d7dce3"/><rect x="361.1520" y="178.6860" width="13.3056" height="1.1895" fill="#d8dce2"/><rect x="361.1520" y="177.6465" width="13.3056" height="1.1895" fill="#d9dce1"/><rect x="361.1520" y="176.6070" width="13.3056" height="1.1895" fill="#dadce0"/><rect x="361.1520" y="175.5675" width="13.3056" height="1.1895" fill="#dbdcde"/><rect x="361.1520" y="174.5280" width="13.3056" height="1.1895" fill="#dcdddd"/><rect x="361.1520" y="173.4885" width="13.3056" height="1.1895" fill="#dddcdc"/><rect x="361.1520" y="172.4490" width="13.3056" height="1.1895" fill="#dedcdb"/><rect x="361.1520" y="171.4095" width="13.3056" height="1.1895" fill="#dfdbd9"/><rect x="361.1520" y="170.3700" width="13.3056" height="1.1895" fill="#e0dbd8"/><rect x="361.1520" y="169.3305" width="13.3056" height="1.1895" fill="#e1dad6"/><rect x="361.1520" y="168.2910" width="13.3056" height="1.1895" fill="#e2dad5"/><rect x="361.1520" y="167.2515" width="13.3056" height="1.1895" fill="#e3d9d3"/><rect x="361.1520" y="166.2120" width="13.3056" height="1.1895" fill="#e4d9d2"/><rect x="361.1520" y="165.1725" width="13.3056" height="1.1895" fill="#e5d8d1"/><rect x="361.1520" y="164.1330" width="13.3056" height="1.1895" fill="#e6d7cf"/><rect x="361.1520" y="163.0935" width="13.3056" height="1.1895" fill="#e7d7ce"/><rect x="361.1520" y="162.0540" width="13.3056" height="1.1895" fill="#e8d6cc"/><rect x="361.1520" y="161.0145" width="13.3056" height="1.1895" fill="#e9d5cb"/><rect x="361.1520" y="159.9750" width="13.3056" height="1.1895" fill="#ead5c9"/><rect x="361.1520" y="158.9355" width="13.3056" height="1.1895" fill="#ead4c8"/><rect x="361.1520" y="157.8960" width="13.3056" height="1.1895" fill="#ebd3c6"/><rect x="361.1520" y="156.8565" width="13.3056" height="1.1895" fill="#ecd3c5"/><rect x="361.1520" y="155.8170" width="13.3056" height="1.1895" fill="#edd2c3"/><rect x="361.1520" y="154.7775" width="13.3056" height="1.1895" fill="#edd1c2"/><rect x="361.1520" y="153.7380" width="13.3056" height="1.1895" fill="#eed0c0"/><rect x="361.1520" y="152.6985" width="13.3056" height="1.1895" fill="#efcfbf"/><rect x="361.1520" y="151.6590" width="13.3056" height="1.1895" fill="#efcebd"/><rect x="361.1520" y="150.6195" width="13.3056" height="1.1895" fill="#f0cdbb"/><rect x="361.1520" y="149.5800" width="13.3056" height="1.1895" fill="#f1cdba"/><rect x="361.1520" y="148.5405" width="13.3056" height="1.1895" fill="#f1ccb8"/><rect x="361.1520" y="147.5010" width="13.3056" height="1.1895" fill="#f2cbb7"/><rect x="361.1520" y="146.4615" width="13.3056" height="1.1895" fill="#f2cab5"/><rect x="361.1520" y="145.4220" width="13.3056" height="1.1895" fill="#f2c9b4"/><rect x="361.1520" y="144.3825" width="13.3056" height="1.1895" fill="#f3c8b2"/><rect x="361.1520" y="143.3430" width="13.3056" height="1.1895" fill="#f3c7b1"/><rect x="361.1520" y="142.3035" width="13.3056" height="1.1895" fill="#f4c6af"/><rect x="361.1520" y="141.2640" width="13.3056" height="1.1895" fill="#f4c5ad"/><rect x="361.1520" y="140.2245" width="13.3056" height="1.1895" fill="#f5c4ac"/><rect x="361.1520" y="139.1850" width="13.3056" height="1.1895" fill="#f5c2aa"/><rect x="361.1520" y="138.1455" width="13.3056" height="1.1895" fill="#f5c1a9"/><rect x="361.1520" y="137.1060" width="13.3056" height="1.1895" fill="#f5c0a7"/><rect x="361.1520" y="136.0665" width="13.3056" height="1.1895" fill="#f6bfa6"/><rect x="361.1520" y="135.0270" width="13.3056" height="1.1895" fill="#f6bea4"/><rect x="361.1520" y="133.9875" width="13.3056" height="1.1895" fill="#f6bda2"/><rect x="361.1520" y="132.9480" width="13.3056" height="1.1895" fill="#f7bca1"/><rect x="361.1520" y="131.9085" width="13.3056" height="1.1895" fill="#f7ba9f"/><rect x="361.1520" y="130.8690" width="13.3056" height="1.1895" fill="#f7b99e"/><rect x="361.1520" y="129.8295" width="13.3056" height="1.1895" fill="#f7b89c"/><rect x="361.1520" y="128.7900" width="13.3056" height="1.1895" fill="#f7b79b"/><rect x="361.1520" y="127.7505" width="13.3056" height="1.1895" fill="#f7b599"/><rect x="361.1520" y="126.7110" width="13.3056" height="1.1895" fill="#f7b497"/><rect x="361.1520" y="125.6715" width="13.3056" height="1.1895" fill="#f7b396"/><rect x="361.1520" y="124.6320" width="13.3056" height="1.1895" fill="#f7b194"/><rect x="361.1520" y="123.5925" width="13.3056" height="1.1895" fill="#f7b093"/><rect x="361.1520" y="122.5530" width="13.3056" height="1.1895" fill="#f7af91"/><rect x="361.1520" y="121.5135" width="13.3056" height="1.1895" fill="#f7ad90"/><rect x="361.1520" y="120.4740" width="13.3056" height="1.1895" fill="#f7ac8e"/><rect x="361.1520" y="119.4345" width="13.3056" height="1.1895" fill="#f7aa8c"/><rect x="361.1520" y="118.3950" width="13.3056" height="1.1895" fill="#f7a98b"/><rect x="361.1520" y="117.3555" width="13.3056" height="1.1895" fill="#f7a889"/><rect x="361.1520" y="116.3160" width="13.3056" height="1.1895" fill="#f7a688"/><rect x="361.1520" y="115.2765" width="13.3056" height="1.1895" fill="#f6a586"/><rect x="361.1520" y="114.2370" width="13.3056" height="1.1895" fill="#f6a385"/><rect x="361.1520" y="113.1975" width="13.3056" height="1.1895" fill="#f6a283"/><rect x="361.1520" y="112.1580" width="13.3056" height="1.1895" fill="#f5a081"/><rect x="361.1520" y="111.1185" width="13.3056" height="1.1895" fill="#f59f80"/><rect x="361.1520" y="110.0790" width="13.3056" height="1.1895" fill="#f59d7e"/><rect x="361.1520" y="109.0395" width="13.3056" height="1.1895" fill="#f59c7d"/><rect x="361.1520" y="108.0000" width="13.3056" height="1.1895" fill="#f49a7b"/><rect x="361.1520" y="106.9605" width="13.3056" height="1.1895" fill="#f4987a"/><rect x="361.1520" y="105.9210" width="13.3056" height="1.1895" fill="#f39778"/><rect x="361.1520" y="104.8815" width="13.3056" height="1.1895" fill="#f39577"/><rect x="361.1520" y="103.8420" width="13.3056" height="1.1895" fill="#f39475"/><rect x="361.1520" y="102.8025" width="13.3056" height="1.1895" fill="#f29274"/><rect x="361.1520" y="101.7630" width="13.3056" height="1.1895" fill="#f29072"/><rect x="361.1520" y="100.7235" width="13.3056" height="1.1895" fill="#f18f71"/><rect x="361.1520" y="99.6840" width="13.3056" height="1.1895" fill="#f18d6f"/><rect x="361.1520" y="98.6445" width="13.3056" height="1.1895" fill="#f08b6e"/><rect x="361.1520" y="97.6050" width="13.3056" height="1.1895" fill="#f08a6c"/><rect x="361.1520" y="96.5655" width="13.3056" height="1.1895" fill="#ef886b"/><rect x="361.1520" y="95.5260" width="13.3056" height="1.1895" fill="#ee8669"/><rect x="361.1520" y="94.4865" width="13.3056" height="1.1895" fill="#ee8468"/><rect x="361.1520" y="93.4470" width="13.3056" height="1.1895" fill="#ed8366"/><rect x="361.1520" y="92.4075" width="13.3056" height="1.1895" fill="#ec8165"/><rect x="361.1520" y="91.3680" width="13.3056" height="1.1895" fill="#ec7f63"/><rect x="361.1520" y="90.3285" width="13.3056" height="1.1895" fill="#eb7d62"/><rect x="361.1520" y="89.2890" width="13.3056" height="1.1895" fill="#ea7b60"/><rect x="361.1520" y="88.2495" width="13.3056" height="1.1895" fill="#e97a5f"/><rect x="361.1520" y="87.2100" width="13.3056" height="1.1895" fill="#e9785d"/><rect x="361.1520" y="86.1705" width="13.3056" height="1.1895" fill="#e8765c"/><rect x="361.1520" y="85.1310" width="13.3056" height="1.1895" fill="#e7745b"/><rect x="361.1520" y="84.0915" width="13.3056" height="1.1895" fill="#e67259"/><rect x="361.1520" y="83.0520" width="13.3056" height="1.1895" fill="#e57058"/><rect x="361.1520" y="82.0125" width="13.3056" height="1.1895" fill="#e46e56"/><rect x="361.1520" y="80.9730" width="13.3056" height="1.1895" fill="#e36c55"/><rect x="361.1520" y="79.9335" width="13.3056" height="1.1895" fill="#e36b54"/><rect x="361.1520" y="78.8940" width="13.3056" height="1.1895" fill="#e26952"/><rect x="361.1520" y="77.8545" width="13.3056" height="1.1895" fill="#e16751"/><rect x="361.1520" y="76.8150" width="13.3056" height="1.1895" fill="#e0654f"/><rect x="361.1520" y="75.7755" width="13.3056" height="1.1895" fill="#df634e"/><rect x="361.1520" y="74.7360" width="13.3056" height="1.1895" fill="#de614d"/><rect x="361.1520" y="73.6965" width="13.3056" height="1.1895" fill="#dd5f4b"/><rect x="361.1520" y="72.6570" width="13.3056" height="1.1895" fill="#dc5d4a"/><rect x="361.1520" y="71.6175" width="13.3056" height="1.1895" fill="#da5a49"/><rect x="361.1520" y="70.5780" width="13.3056" height="1.1895" fill="#d95847"/><rect x="361.1520" y="69.5385" width="13.3056" height="1.1895" fill="#d85646"/><rect x="361.1520" y="68.4990" width="13.3056" height="1.1895" fill="#d75445"/><rect x="361.1520" y="67.4595" width="13.3056" height="1.1895" fill="#d65244"/><rect x="361.1520" y="66.4200" width="13.3056" height="1.1895" fill="#d55042"/><rect x="361.1520" y="65.3805" width="13.3056" height="1.1895" fill="#d44e41"/><rect x="361.1520" y="64.3410" width="13.3056" height="1.1895" fill="#d24b40"/><rect x="361.1520" y="63.3015" width="13.3056" height="1.1895" fill="#d1493f"/><rect x="361.1520" y="62.2620" width="13.3056" height="1.1895" fill="#d0473d"/><rect x="361.1520" y="61.2225" width="13.3056" height="1.1895" fill="#cf453c"/><rect x="361.1520" y="60.1830" width="13.3056" height="1.1895" fill="#cd423b"/><rect x="361.1520" y="59.1435" width="13.3056" height="1.1895" fill="#cc403a"/><rect x="361.1520" y="58.1040" width="13.3056" height="1.1895" fill="#cb3e38"/><rect x="361.1520" y="57.0645" width="13.3056" height="1.1895" fill="#ca3b37"/><rect x="361.1520" y="56.0250" width="13.3056" height="1.1895" fill="#c83836"/><rect x="361.1520" y="54.9855" width="13.3056" height="1.1895" fill="#c73635"/><rect x="361.1520" y="53.9460" width="13.3056" height="1.1895" fill="#c53334"/><rect x="361.1520" y="52.9065" width="13.3056" height="1.1895" fill="#c43032"/><rect x="361.1520" y="51.8670" width="13.3056" height="1.1895" fill="#c32e31"/><rect x="361.1520" y="50.8275" width="13.3056" height="1.1895" fill="#c12b30"/><rect x="361.1520" y="49.7880" width="13.3056" height="1.1895" fill="#c0282f"/><rect x="361.1520" y="48.7485" width="13.3056" height="1.1895" fill="#be242e"/><rect x="361.1520" y="47.7090" width="13.3056" height="1.1895" fill="#bd1f2d"/><rect x="361.1520" y="46.6695" width="13.3056" height="1.1895" fill="#bb1b2c"/><rect x="361.1520" y="45.6300" width="13.3056" height="1.1895" fill="#ba162b"/><rect x="361.1520" y="44.5905" width="13.3056" height="1.1895" fill="#b8122a"/><rect x="361.1520" y="43.5510" width="13.3056" height="1.1895" fill="#b70d28"/><rect x="361.1520" y="42.5115" width="13.3056" height="1.1895" fill="#b50927"/><rect x="361.1520" y="41.4720" width="13.3056" height="1.1895" fill="#b40426"/></g><g id="matplotlib.axis_3"/><g id="matplotlib.axis_4"><g id="ytick_10"><g id="line2d_35"><defs><path id="m33c4ce201d" d="M 0 0 L 3.6 0 " style="stroke: #000000; stroke-width: 0.8"/></defs><g><use href="#m33c4ce201d" x="374.5200" y="307.8000" style="stroke: #000000; stroke-width: 0.8"/></g></g><g id="text_22"><g transform="translate(381.457600 311.239219) scale(0.1 -0.1)"><use href="#DejaVuSans-30"/><use href="#DejaVuSans-2e" transform="translate(63.623047 0)"/><use href="#DejaVuSans-30" transform="translate(95.410156 0)"/></g></g></g><g id="ytick_11"><g id="line2d_36"><g><use href="#m33c4ce201d" x="374.5200" y="254.5200" style="stroke: #000000; stroke-width: 0.8"/></g></g><g id="text_23"><g transform="translate(381.457600 258.016819) scale(0.1 -0.1)"><use href="#DejaVuSans-30"/><use href="#DejaVuSans-2e" transform="translate(63.623047 0)"/><use href="#DejaVuSans-32" transform="translate(95.410156 0)"/></g></g></g><g id="ytick_12"><g id="line2d_37"><g><use href="#m33c4ce201d" x="374.5200" y="201.2400" style="stroke: #000000; stroke-width: 0.8"/></g></g><g id="text_24"><g transform="translate(381.457600 204.794419) scale(0.1 -0.1)"><use href="#DejaVuSans-30"/><use href="#DejaVuSans-2e" transform="translate(63.623047 0)"/><use href="#DejaVuSans-34" transform="translate(95.410156 0)"/></g></g></g><g id="ytick_13"><g id="line2d_38"><g><use href="#m33c4ce201d" x="374.5200" y="147.9600" style="stroke: #000000; stroke-width: 0.8"/></g></g><g id="text_25"><g transform="translate(381.457600 151.572019) scale(0.1 -0.1)"><use href="#DejaVuSans-30"/><use href="#DejaVuSans-2e" transform="translate(63.623047 0)"/><use href="#DejaVuSans-36" transform="translate(95.410156 0)"/></g></g></g><g id="ytick_14"><g id="line2d_39"><g><use href="#m33c4ce201d" x="374.5200" y="94.9200" style="stroke: #000000; stroke-width: 0.8"/></g></g><g id="text_26"><g transform="translate(381.457600 98.349619) scale(0.1 -0.1)"><use href="#DejaVuSans-30"/><use href="#DejaVuSans-2e" transform="translate(63.623047 0)"/><use href="#DejaVuSans-38" transform="translate(95.410156 0)"/></g></g></g><g id="ytick_15"><g id="line2d_40"><g><use href="#m33c4ce201d" x="374.5200" y="41.6400" style="stroke: #000000; stroke-width: 0.8"/></g></g><g id="text_27"><g transform="translate(381.457600 45.127219) scale(0.1 -0.1)"><use href="#DejaVuSans-31"/><use href="#DejaVuSans-2e" transform="translate(63.623047 0)"/><use href="#DejaVuSans-30" transform="translate(95.410156 0)"/></g></g></g></g><g id="LineCollection_1"/><g id="patch_8"><path d="M 361.32 307.8 L 368.04 307.8 L 374.52 307.8 L 374.52 41.64 L 368.04 41.64 L 361.32 41.64 L 361.32 307.8 z " style="fill: none; stroke: #000000; stroke-width: 0.8; stroke-linejoin: miter; stroke-linecap: square"/></g></g></g><defs><clipPath id="p9944d8ce5a"><rect x="57.6" y="41.472" width="285.696" height="266.112"/></clipPath></defs></svg> 
</body></html>
